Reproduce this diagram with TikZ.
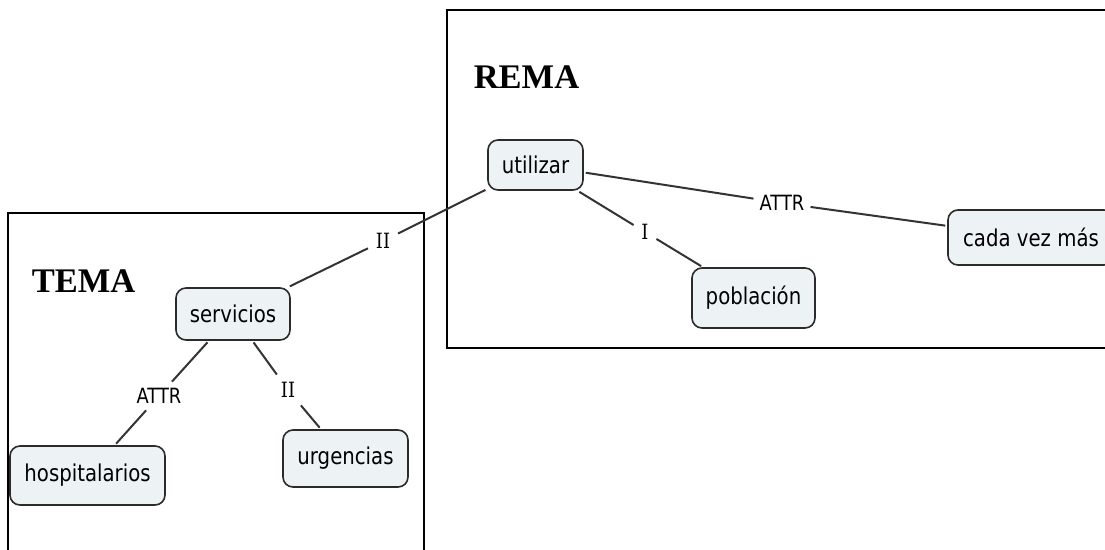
\documentclass[tikz,border=0pt]{standalone}
\usepackage{fontspec}
\newfontfamily\nodefont[FakeStretch=0.85]{DejaVu Sans}
\newfontfamily\lblserif[FakeStretch=0.85]{DejaVu Serif}
\newfontfamily\titlefont{Liberation Serif}
\definecolor{nodefill}{HTML}{EDF3F5}
\definecolor{nodeline}{HTML}{2B2B2B}
\definecolor{conncol}{HTML}{333333}
\tikzset{
  concept/.style={draw=nodeline, line width=1.6pt, fill=nodefill, rounded corners=10pt,
    font=\nodefont\fontsize{23.2}{26}\selectfont, inner sep=0pt, text=black},
  lbl/.style={font=\nodefont\fontsize{21}{24}\selectfont, inner xsep=4pt, inner ysep=5pt, text=black},
  slbl/.style={font=\lblserif\fontsize{21}{24}\selectfont, inner xsep=6pt, inner ysep=6pt, text=black},
  conn/.style={draw=conncol, line width=2pt, shorten <=2pt, shorten >=2pt},
  frame/.style={draw=black, line width=2pt},
  title/.style={font=\titlefont\bfseries\fontsize{34.5}{38}\selectfont, inner sep=0pt}
}
\begin{document}
\begin{tikzpicture}[x=1pt,y=-1pt]
\useasboundingbox (0,0) rectangle (1105,549);
% frames
\draw[frame] (8,213) rectangle (424,560);
\draw[frame] (447,10) rectangle (1112,348);
\node[title] (rema) at (526.5,77) {REMA};
\node[title] (tema) at (83.5,281) {TEMA};
% concepts
\node[concept, minimum width=95pt, minimum height=50pt] (utilizar) at (535.5,165) {utilizar};
\node[concept, minimum width=123pt, minimum height=60pt] (poblacion) at (753.5,298) {población};
\node[concept, minimum width=166pt, minimum height=55pt] (cada) at (1031,237.5) {cada vez más};
\node[concept, minimum width=114pt, minimum height=52pt] (servicios) at (233,314) {servicios};
\node[concept, minimum width=155pt, minimum height=59pt] (hosp) at (87.5,475.5) {hospitalarios};
\node[concept, minimum width=125pt, minimum height=57pt] (urg) at (345.5,458.5) {urgencias};
% linking labels
\node[slbl] (l1) at (383,241) {II};
\node[lbl] (l2) at (782,203) {ATTR};
\node[slbl] (l3) at (645,232) {I};
\node[lbl] (l4) at (159,396) {ATTR};
\node[slbl] (l5) at (288,390) {II};
% connectors
\draw[conn] (servicios) -- (l1);
\draw[conn] (l1) -- (utilizar);
\draw[conn] (utilizar) -- (l2);
\draw[conn] (l2) -- (cada);
\draw[conn] (utilizar) -- (l3);
\draw[conn] (l3) -- (poblacion);
\draw[conn] (servicios) -- (l4);
\draw[conn] (l4) -- (hosp);
\draw[conn] (servicios) -- (l5);
\draw[conn] (l5) -- (urg);
\end{tikzpicture}
\end{document}
